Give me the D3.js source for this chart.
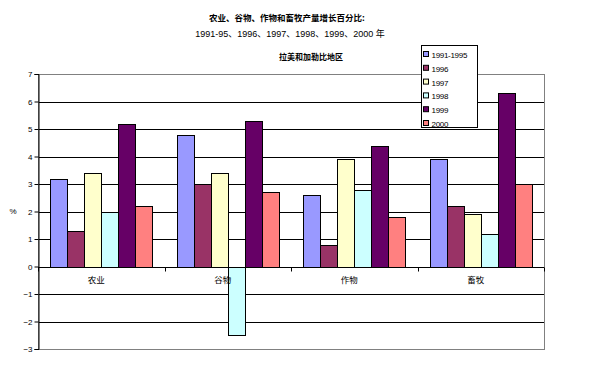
<!DOCTYPE html>
<html>
<head>
<meta charset="utf-8">
<script src="https://cdn.jsdelivr.net/npm/d3@7"></script>
<style>
  body { margin: 0; background: #fff; }
  text { font-family: "Liberation Sans", Arial, "Noto Sans CJK SC", sans-serif; }
  .cjk { font-family: "Noto Sans CJK SC", sans-serif; }
</style>
</head>
<body>
<script>
// chart data
var categories = ["农业", "谷物", "作物", "畜牧"];
var seriesNames = ["1991-1995", "1996", "1997", "1998", "1999", "2000"];
var s1991_95 = [3.2, 4.8, 2.6, 3.9];
var s1996 = [1.3, 3.0, 0.8, 2.2];
var s1997 = [3.4, 3.4, 3.9, 1.9];
var s1998 = [2.0, -2.5, 2.8, 1.2];
var s1999 = [5.2, 5.3, 4.4, 6.3];
var s2000 = [2.2, 2.7, 1.8, 3.0];
var yTicks = [-3, -2, -1, 0, 1, 2, 3, 4, 5, 6, 7];
var colors = ["#9999FF", "#993366", "#FFFFCC", "#CCFFFF", "#660066", "#FF8080"];

var allSeries = [s1991_95, s1996, s1997, s1998, s1999, s2000];

var w = 595, h = 365;
var plotL = 38, plotR = 544, plotT = 74, plotB = 349;

var svg = d3.select("body").append("svg")
    .attr("width", w)
    .attr("height", h);

var x = d3.scaleBand().domain(categories).range([plotL, plotR]).paddingInner(0).paddingOuter(0);
var xs = d3.scaleBand().domain(seriesNames).range([0, x.bandwidth()]).paddingOuter(0.72).paddingInner(0);
var y = d3.scaleLinear().domain([-3, 7]).range([plotB, plotT]);

// titles
svg.append("text").attr("class", "cjk").attr("x", 287).attr("y", 21)
    .attr("text-anchor", "middle").attr("font-size", 8.5).attr("font-weight", "bold")
    .text("农业、谷物、作物和畜牧产量增长百分比:");
svg.append("text").attr("x", 290).attr("y", 37)
    .attr("text-anchor", "middle").attr("font-size", 9)
    .text("1991-95、1996、1997、1998、1999、2000 年");
svg.append("text").attr("class", "cjk").attr("x", 311).attr("y", 60)
    .attr("text-anchor", "middle").attr("font-size", 8).attr("font-weight", "bold")
    .text("拉美和加勒比地区");

// gridlines
svg.append("g").selectAll("line")
    .data(yTicks.filter(function(d){ return d != -3 && d != 7; }))
    .enter().append("line")
    .attr("x1", plotL).attr("x2", plotR)
    .attr("y1", function(d){ return Math.round(y(d)) + 0.5; })
    .attr("y2", function(d){ return Math.round(y(d)) + 0.5; })
    .attr("stroke", "#000");

// plot border (gray)
svg.append("rect")
    .attr("x", plotL + 0.5).attr("y", Math.round(y(7)) + 0.5)
    .attr("width", plotR - plotL).attr("height", Math.round(y(-3)) - Math.round(y(7)))
    .attr("fill", "none").attr("stroke", "#808080");

// bars
var groups = svg.append("g").selectAll("g")
    .data(allSeries).enter().append("g")
    .attr("fill", function(d, i){ return colors[i]; });

groups.selectAll("rect")
    .data(function(d, i){
        return d.map(function(v, j){ return {cat: categories[j], s: seriesNames[i], v: v}; });
    })
    .enter().append("rect")
    .attr("x", function(d){ return Math.round(x(d.cat) + xs(d.s)) + 0.5; })
    .attr("width", Math.round(xs.bandwidth()))
    .attr("y", function(d){ return Math.round(y(Math.max(0, d.v))) + 0.5; })
    .attr("height", function(d){ return Math.abs(Math.round(y(d.v)) - Math.round(y(0))); })
    .attr("stroke", "#000").attr("stroke-width", 1);

// y axis
var yAxis = svg.append("g")
    .attr("transform", "translate(" + (plotL + 0.5) + ",0)")
    .call(d3.axisLeft(y).tickValues(yTicks).tickSize(4).tickFormat(d3.format("d")));
yAxis.select(".domain").attr("stroke", "#000");
yAxis.selectAll("text").attr("font-size", 8).attr("font-family", "Liberation Sans, Arial, sans-serif").attr("dx", "1");

// x axis at zero
var xAxis = svg.append("g")
    .attr("transform", "translate(0," + (Math.round(y(0)) + 0.5) + ")");
xAxis.append("line").attr("x1", plotL).attr("x2", plotR).attr("stroke", "#000");
xAxis.selectAll("line.tk")
    .data(categories.concat(["end"])).enter().append("line")
    .attr("class", "tk")
    .attr("x1", function(d, i){ return Math.round(plotL + i * x.bandwidth()) + 0.5; })
    .attr("x2", function(d, i){ return Math.round(plotL + i * x.bandwidth()) + 0.5; })
    .attr("y1", 0).attr("y2", 4).attr("stroke", "#000");
xAxis.selectAll("text")
    .data(categories).enter().append("text")
    .attr("class", "cjk")
    .attr("x", function(d){ return x(d) + x.bandwidth() / 2 - 5; })
    .attr("y", 15)
    .attr("text-anchor", "middle").attr("font-size", 8.5)
    .text(function(d){ return d; });

// y axis label
svg.append("text").attr("x", 13).attr("y", 214)
    .attr("text-anchor", "middle").attr("font-size", 8).text("%");

// legend
var legend = svg.append("g").attr("transform", "translate(421.5,45.5)");
legend.append("rect").attr("width", 56).attr("height", 82)
    .attr("fill", "#fff").attr("stroke", "#000");
var items = legend.selectAll("g.item").data(seriesNames).enter().append("g")
    .attr("class", "item")
    .attr("transform", function(d, i){ return "translate(0," + (9.5 + i * 13.8) + ")"; });
items.append("rect").attr("x", 2).attr("y", -3.5).attr("width", 5).attr("height", 5)
    .attr("fill", function(d, i){ return colors[i]; }).attr("stroke", "#000");
items.append("text").attr("x", 10).attr("y", 3).attr("font-size", 8)
    .attr("letter-spacing", "-0.3")
    .text(function(d){ return d; });
</script>
</body>
</html>
